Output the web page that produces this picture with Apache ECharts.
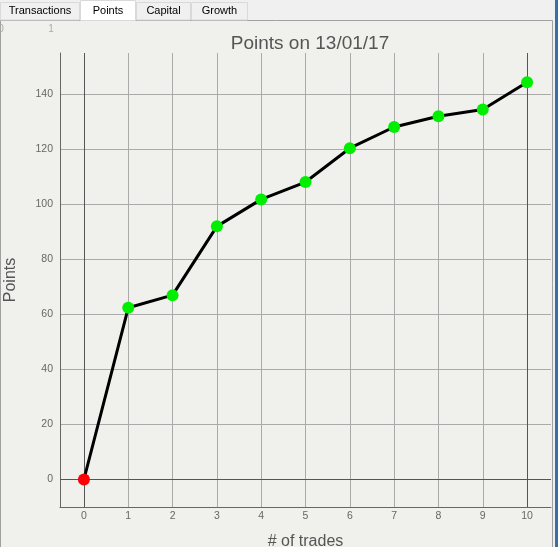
<!DOCTYPE html>
<html><head><meta charset="utf-8">
<script src="https://cdn.jsdelivr.net/npm/echarts@6/dist/echarts.min.js"></script>
<style>html,body{margin:0;padding:0;background:#f0f0f0;}#c{width:558px;height:547px;}</style>
</head><body><div id="c"></div>
<script>
const trades = [0, 1, 2, 3, 4, 5, 6, 7, 8, 9, 10];
const points = [0, 62.4, 67.0, 92.0, 101.8, 108.1, 120.4, 128.1, 132.0, 134.5, 144.4];
const xTicks = [0, 1, 2, 3, 4, 5, 6, 7, 8, 9, 10];
const yTicks = [0, 20, 40, 60, 80, 100, 120, 140];
const tabs = ['Transactions', 'Points', 'Capital', 'Growth'];
const titleText = 'Points on 13/01/17';

const chart = echarts.init(document.getElementById('c'), null, {renderer: 'canvas'});
const font = '"Liberation Sans", Arial, sans-serif';
const tabX = [0, 80, 136, 191, 248];
const graphics = [];
graphics.push({type: 'rect', shape: {x: 0.5, y: 20.5, width: 552, height: 528}, style: {fill: '#f0f0ed', stroke: '#a0a0a0', lineWidth: 1}, z: -10});
graphics.push({type: 'rect', shape: {x: 555, y: 0, width: 3, height: 547}, style: {fill: '#3a6ea5'}, z: -10});
tabs.forEach((t, i) => {
  const sel = i === 1;
  graphics.push({type: 'rect', shape: {x: tabX[i] + 0.5, y: sel ? 0.5 : 2.5, width: tabX[i + 1] - tabX[i] - 1, height: sel ? 20 : 17.5},
    style: {fill: sel ? '#ffffff' : '#f0f0f0', stroke: '#d9d9d9', lineWidth: 1}, z: -5});
  graphics.push({type: 'text', x: (tabX[i] + tabX[i + 1]) / 2, y: 11, style: {text: t, fill: '#000', font: '11px ' + font, align: 'center', verticalAlign: 'middle'}, z: -4});
});
graphics.push({type: 'text', x: 1, y: 29, style: {text: '0', fill: '#aaa', font: '10px ' + font, align: 'center', verticalAlign: 'middle'}});
graphics.push({type: 'text', x: 51, y: 29, style: {text: '1', fill: '#aaa', font: '10px ' + font, align: 'center', verticalAlign: 'middle'}});

chart.setOption({
  backgroundColor: 'transparent',
  animation: false,
  graphic: graphics,
  title: {text: titleText, left: 305, top: 29, textAlign: 'center',
    textStyle: {fontFamily: font, fontSize: 19, fontWeight: 'normal', color: '#555'}},
  grid: {left: 60, right: 7, top: 53, bottom: 40, containLabel: false, outerBoundsMode: 'none'},
  xAxis: {type: 'value', min: -0.54, max: 10.54,
    name: '# of trades', nameLocation: 'middle', nameGap: 27,
    nameTextStyle: {fontFamily: font, fontSize: 16, color: '#555'},
    axisLine: {show: true, onZero: false, lineStyle: {color: '#666', width: 1}},
    axisTick: {show: false, customValues: xTicks},
    axisLabel: {customValues: xTicks, color: '#666', fontFamily: font, fontSize: 10.5, margin: 4},
    splitLine: {show: true, lineStyle: {color: '#aaa', width: 1}}},
  yAxis: {type: 'value', min: -10, max: 155,
    name: 'Points', nameLocation: 'middle', nameGap: 41, nameRotate: 90,
    nameTextStyle: {fontFamily: font, fontSize: 16, color: '#555'},
    axisLine: {show: true, onZero: false, lineStyle: {color: '#666', width: 1}},
    axisTick: {show: false, customValues: yTicks},
    axisLabel: {customValues: yTicks, color: '#666', fontFamily: font, fontSize: 10.5, margin: 7},
    splitLine: {show: true, lineStyle: {color: '#aaa', width: 1}}},
  series: [{
    type: 'line',
    data: trades.map((t, i) => ({value: [t, points[i]], itemStyle: {color: i === 0 ? '#ff0000' : '#00ee00'}})),
    symbol: 'circle', symbolSize: 12,
    lineStyle: {color: '#000', width: 3},
    itemStyle: {color: '#00ee00', borderWidth: 0},
    markLine: {silent: true, symbol: 'none', label: {show: false},
      lineStyle: {color: '#555', width: 1, type: 'solid'},
      data: [{xAxis: trades[0]}, {xAxis: trades[trades.length - 1]}, {yAxis: 0}]},
    z: 5
  }]
});
</script></body></html>
